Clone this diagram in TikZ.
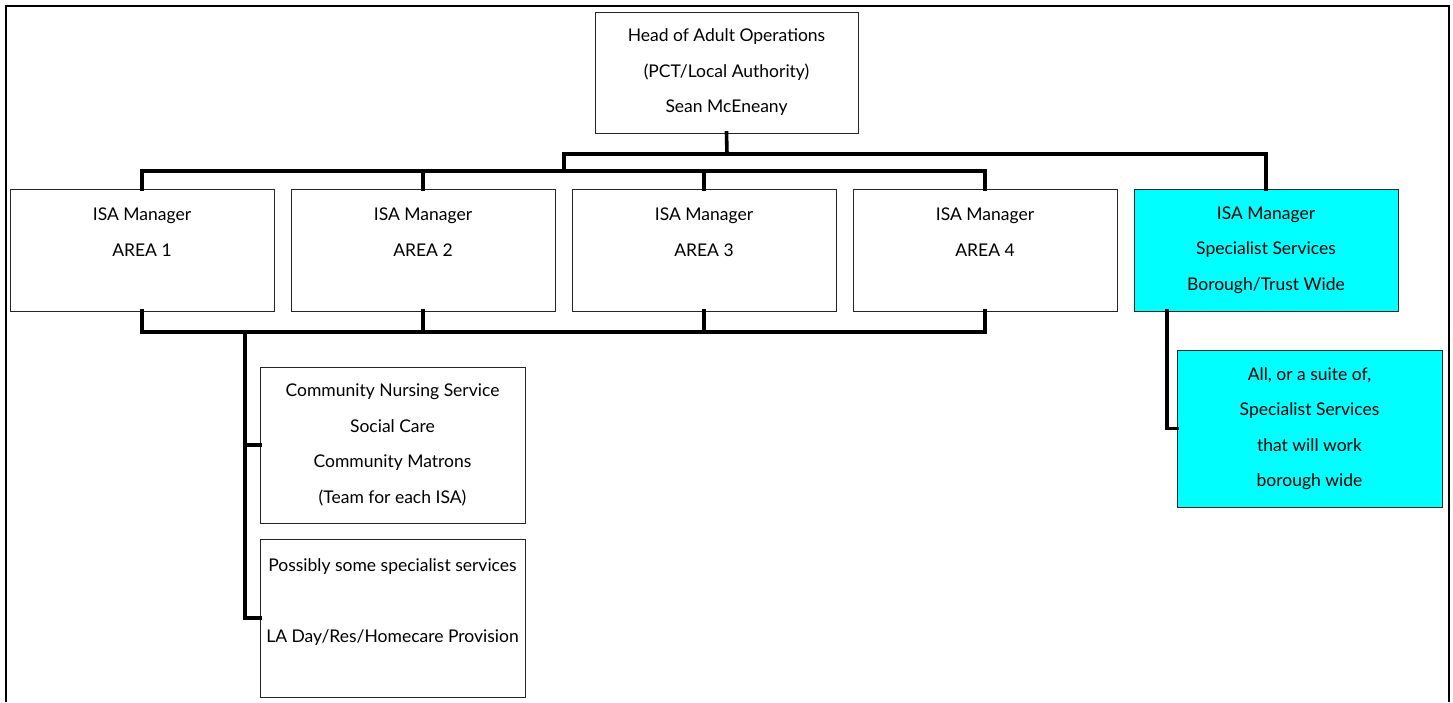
\documentclass[tikz,border=0pt]{standalone}
\usepackage{fontspec}
\setmainfont{Lato}
\usetikzlibrary{positioning}
\definecolor{specfill}{RGB}{0,255,255}

\begin{document}
\begin{tikzpicture}[
    x=1pt, y=-1pt,
    node distance=17pt,
    box/.style={rectangle, draw=black!85, line width=1pt, fill=white, outer sep=0pt, minimum width=264pt, minimum height=122pt, align=center, font={\fontsize{17.5}{35.5}\selectfont}},
    specbox/.style={box, fill=specfill},
    conn/.style={line width=3.6pt, line cap=rect},
    frame/.style={line width=2.2pt}
]
\useasboundingbox (0,0) rectangle (1453,702);
\draw[frame] (6,702) -- (6,6) -- (1449,6) -- (1449,702);

% Head
\node[box, minimum width=263pt, minimum height=121pt] (head) at (726.5,72.5) {Head of Adult Operations\\(PCT/Local Authority)\\Sean McEneany};

% ISA managers
\node[box] (area1) at (142,250) {ISA Manager\\AREA 1\\ \mbox{}};
\node[box, right=of area1] (area2) {ISA Manager\\AREA 2\\ \mbox{}};
\node[box, right=of area2] (area3) {ISA Manager\\AREA 3\\ \mbox{}};
\node[box, right=of area3] (area4) {ISA Manager\\AREA 4\\ \mbox{}};
\node[specbox, right=of area4] (spec) {ISA Manager\\Specialist Services\\Borough/Trust Wide};

% Teams under the areas
\node[box, minimum width=265pt, minimum height=156pt] (teams) at (392.5,445) {Community Nursing Service\\Social Care\\Community Matrons\\(Team for each ISA)};
\node[box, minimum width=265pt, minimum height=158pt, below=16pt of teams] (provis) {Possibly some specialist services\\ \mbox{}\\LA Day/Res/Homecare Provision\\ \mbox{}};

% Specialist services
\node[specbox, minimum width=265pt, minimum height=157pt] (suite) at (1309.5,428.5) {All, or a suite of,\\Specialist Services\\that will work\\borough wide};

% Bus levels
\coordinate (upbus) at (727,154);
\coordinate (split) at (564,171);
\coordinate (lowbus) at (245,332);

% Connectors
\draw[conn] (head.south) -- (upbus);
\draw[conn] (split) -- (split |- upbus) -- (spec.north |- upbus) -- (spec.north);
\draw[conn] (area1.north) -- (area1.north |- split) -- (area4.north |- split) -- (area4.north);
\draw[conn] (area1.south) -- (area1.south |- lowbus) -- (area4.south |- lowbus) -- (area4.south);
\foreach \i in {2,3} {
    \draw[conn] (area\i.north) -- (area\i.north |- split);
    \draw[conn] (area\i.south) -- (area\i.south |- lowbus);
}
\draw[conn] (lowbus) |- (teams.west);
\draw[conn] (lowbus) |- (provis.west);
\draw[conn] ([xshift=-99pt]spec.south) |- (suite.west);

\end{tikzpicture}
\end{document}
